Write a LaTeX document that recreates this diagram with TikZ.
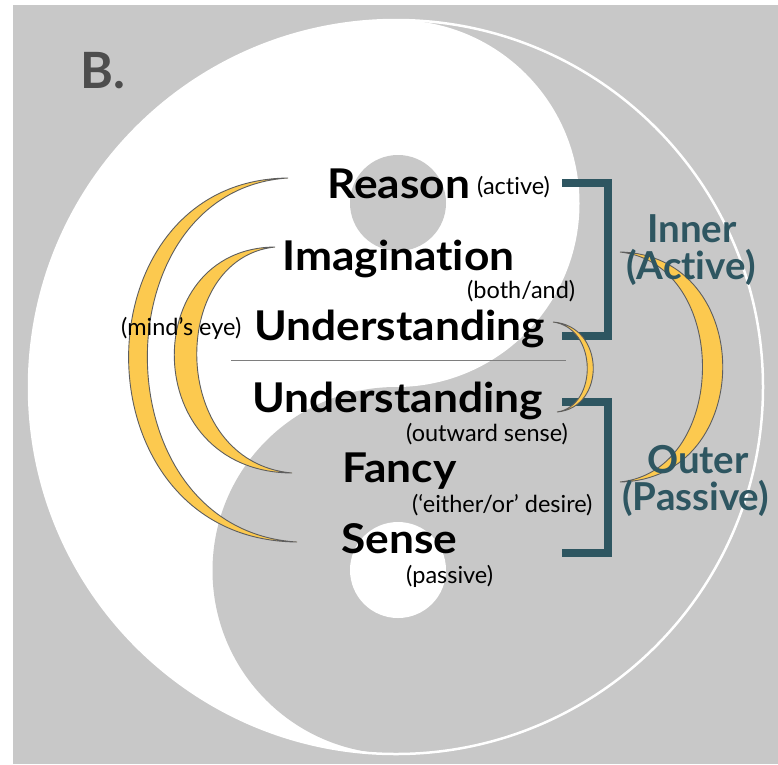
\documentclass[tikz,border=0pt]{standalone}
\usepackage{fontspec}
\setmainfont{Lato}[Ligatures=NoCommon]
\newfontfamily\widefont{Lato}[Ligatures=NoCommon, FakeStretch=1.08]
\definecolor{bggray}{HTML}{C8C8C8}
\definecolor{teal}{HTML}{2E5661}
\definecolor{crescent}{HTML}{FCC94F}
\definecolor{cedge}{HTML}{5E5E5E}
\definecolor{bgray}{HTML}{4D4D4D}
\tikzset{
  big/.style={anchor=base west, inner sep=0pt, font=\widefont\fontsize{41}{48}\selectfont\bfseries},
  small/.style={anchor=base west, inner sep=0pt, font=\fontsize{23.5}{28}\selectfont},
  tealtxt/.style={anchor=base west, inner sep=0pt, text=teal, font=\fontsize{38.5}{46}\selectfont\bfseries},
  bracket/.style={draw=teal, line width=8pt, miter limit=10},
  moon/.style={fill=crescent, draw=cedge, line width=0.9pt},
}
\begin{document}
\begin{tikzpicture}[x=1pt,y=-1pt]
\useasboundingbox (0,0) rectangle (778,764);
\fill[white] (0,0) rectangle (778,764);
\fill[bggray] (13,5) rectangle (778,764);
% yin-yang
\begin{scope}
  \clip (0,0) rectangle (396,764);
  \fill[white] (396,387) circle[radius=367pt];
\end{scope}
\fill[white] (396,203.5) circle[radius=183.5pt];
\fill[bggray] (396,570.5) circle[radius=183.5pt];
\fill[bggray] (398,203) circle[radius=48pt];
\fill[white] (398,570) circle[radius=48pt];
\draw[white, line width=2.5pt] (396,387) circle[radius=367pt];
% title
\node[anchor=base west, inner sep=0pt, text=bgray, font=\fontsize{50}{60}\selectfont\bfseries] (title) at (80,88) {B.};
% divider
\coordinate (dl) at (231,360);
\coordinate (dr) at (566,360);
\draw[cedge!80, line width=1pt] (dl) -- (dr);
% brackets
\coordinate (b1a) at (562,183);
\coordinate (b1b) at (608,183);
\coordinate (b1c) at (608,336);
\coordinate (b1d) at (562,336);
\coordinate (b2a) at (562,402);
\coordinate (b2b) at (608,402);
\coordinate (b2c) at (608,553);
\coordinate (b2d) at (562,553);
\draw[bracket] (b1a) -- (b1b) -- (b1c) -- (b1d);
\draw[bracket] (b2a) -- (b2b) -- (b2c) -- (b2d);
% crescents
\path[moon] (288,178) .. controls (74,180) and (74,540) .. (297,542)
            .. controls (99,530) and (99,190) .. (288,178) -- cycle;
\path[moon] (275,247) .. controls (138,248) and (138,472) .. (292,473)
            .. controls (168,462) and (168,258) .. (275,247) -- cycle;
\path[moon] (553,322) .. controls (606,326) and (606,408) .. (557,412)
            .. controls (598,406) and (598,328) .. (553,322) -- cycle;
\path[moon] (620,252) .. controls (757,255) and (757,479) .. (620,482)
            .. controls (730,470) and (730,264) .. (620,252) -- cycle;
% texts
\node[big] (reason) at (327,198) {Reason};
\node[small] (active) at (477,194) {(active)};
\node[big] (imag) at (282,270) {Imagination};
\node[small] (both) at (467,298) {(both/and)};
\node[big] (und1) at (254,340) {Understanding};
\node[small] (mind) at (121,335) {(mind’s eye)};
\node[big] (und2) at (252,412) {Understanding};
\node[small] (outw) at (406,441) {(outward sense)};
\node[big] (fancy) at (342,482) {Fancy};
\node[small] (either) at (412,512) {(‘either/or’ desire)};
\node[big] (sense) at (341,553) {Sense};
\node[small] (passive) at (406,583) {(passive)};
\node[tealtxt] (inner) at (647,242) {Inner};
\node[tealtxt] (activeL) at (626,279) {(Active)};
\node[tealtxt] (outer) at (647,473) {Outer};
\node[tealtxt] (passiveL) at (622,510) {(Passive)};
\end{tikzpicture}
\end{document}
